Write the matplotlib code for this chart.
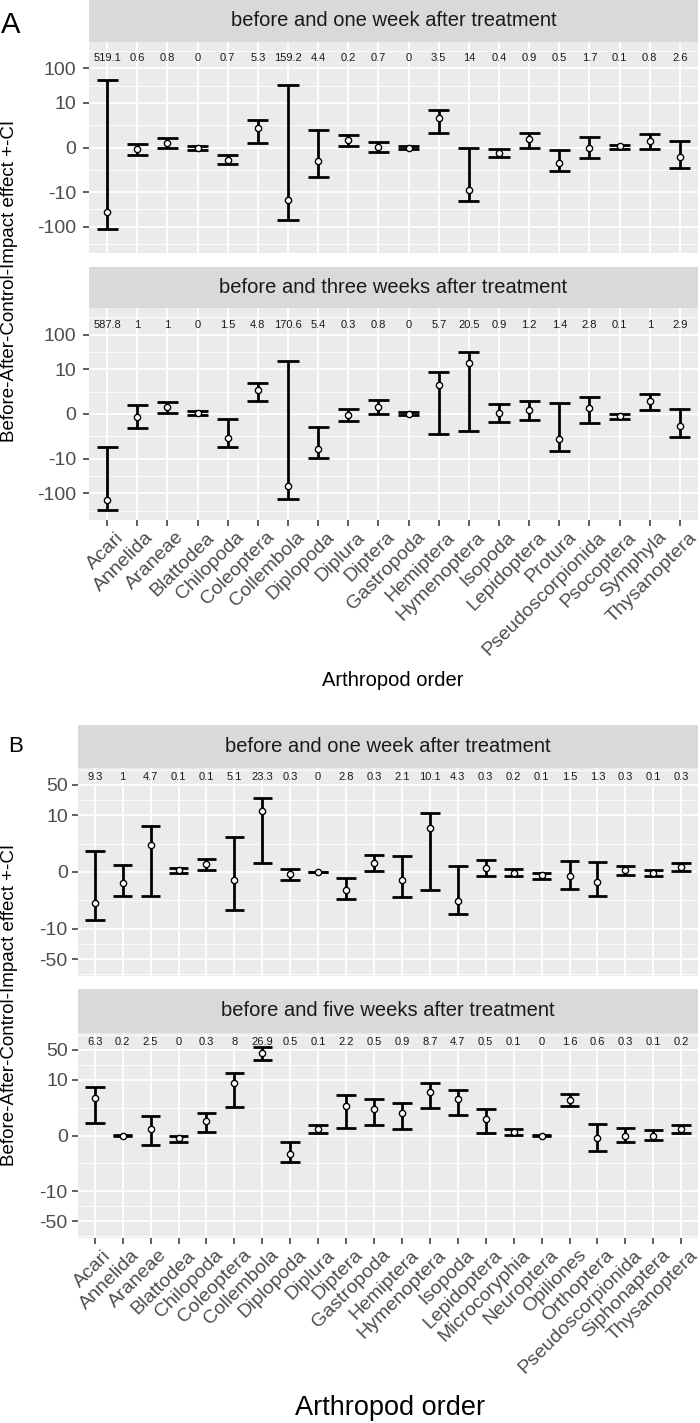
import numpy as np
import matplotlib
matplotlib.use("Agg")
import matplotlib.pyplot as plt
from matplotlib.transforms import blended_transform_factory, ScaledTranslation
from matplotlib.ticker import FixedLocator

plt.rcParams['font.family'] = ['Liberation Sans', 'DejaVu Sans']

# ---- data: panel A ----
orders_a = ["Acari", "Annelida", "Araneae", "Blattodea", "Chilopoda", "Coleoptera",
            "Collembola", "Diplopoda", "Diplura", "Diptera", "Gastropoda", "Hemiptera",
            "Hymenoptera", "Isopoda", "Lepidoptera", "Protura", "Pseudoscorpionida",
            "Psocoptera", "Symphyla", "Thysanoptera"]

# before and one week after treatment
a1_est = [-36.7, -0.13, 0.32, -0.04, -0.98, 1.68, -16.8, -1.08, 0.53, 0.05,
          0.0, 3.56, -8.8, -0.39, 0.59, -1.25, 0.0, 0.09, 0.46, -0.72]
a1_lo = [-116.6, -0.53, 0.0, -0.18, -1.36, 0.34, -65.3, -3.63, 0.11, -0.34,
         -0.07, 1.15, -17.6, -0.69, 0.0, -2.30, -0.78, -0.13, -0.09, -1.9]
a1_hi = [44.8, 0.27, 0.69, 0.11, -0.56, 3.09, 33.5, 1.47, 0.98, 0.39,
         0.09, 6.14, 0.0, -0.11, 1.18, -0.16, 0.80, 0.2, 1.01, 0.44]
a1_n = ["519.1", "0.6", "0.8", "0", "0.7", "5.3", "159.2", "4.4", "0.2", "0.7",
        "0", "3.5", "14", "0.4", "0.9", "0.5", "1.7", "0.1", "0.8", "2.6"]

# before and three weeks after treatment
a2_est = [-151, -0.22, 0.49, 0.07, -2.38, 2.45, -61.9, -5.05, -0.07, 0.51,
          0.02, 3.41, 15.2, 0.09, 0.29, -2.57, 0.39, -0.16, 1.02, -0.89]
a2_lo = [-295, -1.08, 0.05, -0.05, -4.5, 1.02, -141, -9.27, -0.49, 0.0,
         -0.07, -1.73, -1.36, -0.56, -0.39, -5.77, -0.67, -0.32, 0.29, -2.17]
a2_hi = [-4.5, 0.64, 0.89, 0.2, -0.34, 4.02, 17.0, -0.98, 0.34, 1.05,
         0.16, 8.48, 31.7, 0.75, 0.95, 0.81, 1.44, 0.0, 1.78, 0.32]
a2_n = ["587.8", "1", "1", "0", "1.5", "4.8", "170.6", "5.4", "0.3", "0.8",
        "0", "5.7", "20.5", "0.9", "1.2", "1.4", "2.8", "0.1", "1", "2.9"]

# ---- data: panel B ----
orders_b = ["Acari", "Annelida", "Araneae", "Blattodea", "Chilopoda", "Coleoptera",
            "Collembola", "Diplopoda", "Diplura", "Diptera", "Gastropoda", "Hemiptera",
            "Hymenoptera", "Isopoda", "Lepidoptera", "Microcoryphia", "Neuroptera",
            "Opiliones", "Orthoptera", "Pseudoscorpionida", "Siphonaptera", "Thysanoptera"]

# before and one week after treatment
b1_est = [-2.48, -0.62, 1.93, 0.09, 0.44, -0.42, 12.4, -0.13, 0.0, -1.09, 0.50,
          -0.42, 4.94, -2.16, 0.22, -0.05, -0.14, -0.2, -0.56, 0.09, -0.07, 0.27]
b1_lo = [-6.27, -1.63, -1.63, -0.05, 0.13, -3.76, 0.52, -0.42, -0.02, -1.93, 0.04,
         -1.74, -1.12, -4.6, -0.22, -0.23, -0.38, -0.99, -1.63, -0.14, -0.23, 0.07]
b1_hi = [1.35, 0.38, 5.62, 0.23, 0.75, 3.06, 25.3, 0.14, 0.02, -0.35, 0.99,
         0.92, 11.1, 0.33, 0.67, 0.14, -0.05, 0.60, 0.54, 0.31, 0.11, 0.52]
b1_n = ["9.3", "1", "4.7", "0.1", "0.1", "5.1", "23.3", "0.3", "0", "2.8", "0.3",
        "2.1", "10.1", "4.3", "0.3", "0.2", "0.1", "1.5", "1.3", "0.3", "0.1", "0.3"]

# before and five weeks after treatment
b2_est = [3.66, 0.0, 0.36, -0.14, 0.84, 8.13, 42.6, -1.15, 0.36, 2.33, 2.0,
          1.50, 5.18, 3.53, 1.01, 0.18, 0.0, 3.29, -0.16, 0.0, 0.0, 0.36]
b2_lo = [0.75, -0.02, -0.54, -0.34, 0.2, 2.19, 28.3, -1.95, 0.11, 0.40, 0.6,
         0.34, 2.03, 1.31, 0.12, 0.02, -0.02, 2.28, -0.96, -0.38, -0.27, 0.14]
b2_hi = [6.55, 0.02, 1.22, 0.0, 1.50, 14.4, 57.6, -0.33, 0.58, 4.32, 3.47,
         2.72, 8.42, 5.67, 1.93, 0.36, 0.02, 4.48, 0.64, 0.40, 0.29, 0.58]
b2_n = ["6.3", "0.2", "2.5", "0", "0.3", "8", "26.9", "0.5", "0.1", "2.2", "0.5",
        "0.9", "8.7", "4.7", "0.5", "0.1", "0", "1.6", "0.6", "0.3", "0.1", "0.2"]

ticks_a = [-100, -10, 0, 10, 100]
ticks_b = [-50, -10, 0, 10, 50]

W, H = 700, 1423
fig = plt.figure(figsize=(W / 100, H / 100), dpi=100)


def rect(l, t, r, b):
    return [l / W, 1 - b / H, (r - l) / W, (b - t) / H]


def minor_breaks(ticks):
    # ggplot style: midpoints between breaks in transformed (asinh) space
    t = np.arcsinh(np.array(ticks, dtype=float))
    t = np.concatenate([[t[0] - (t[1] - t[0])], t, [t[-1] + (t[-1] - t[-2])]])
    return np.sinh((t[:-1] + t[1:]) / 2)


def panel(box, strip_box, title, cats, est, lo, hi, nlab, ticks, lim, lab_y,
          bottom, ypad):
    ax = fig.add_axes(rect(*box))
    x = np.arange(len(cats))
    ax.set_facecolor('#EBEBEB')
    ax.set_yscale('asinh', linear_width=1)
    ax.set_xlim(-0.6, len(cats) - 0.4)
    ax.set_ylim(-np.sinh(lim), np.sinh(lim))
    ax.yaxis.set_major_locator(FixedLocator(ticks))
    ax.yaxis.set_minor_locator(FixedLocator(minor_breaks(ticks)))
    ax.set_yticklabels([str(t) for t in ticks])
    ax.set_xticks(x)
    ax.grid(which='major', color='white', lw=1.3)
    ax.grid(which='minor', axis='y', color='white', lw=0.6)
    ax.set_axisbelow(True)
    for s in ax.spines.values():
        s.set_visible(False)
    ax.tick_params(axis='y', which='major', length=4.3, width=1.1, color='#333333',
                   labelsize=14, labelcolor='#4D4D4D', pad=ypad)
    ax.tick_params(which='minor', length=0)
    if bottom:
        ax.tick_params(axis='x', length=4.3, width=1.1, color='#333333',
                       labelsize=14, labelcolor='#4D4D4D', pad=2)
        ax.set_xticklabels(cats, rotation=45, ha='right', va='top',
                           rotation_mode='anchor')
        shift = ScaledTranslation(0.08, 0, fig.dpi_scale_trans)
        for lab in ax.get_xticklabels():
            lab.set_transform(lab.get_transform() + shift)
    else:
        ax.tick_params(axis='x', length=0, labelbottom=False)

    ax.vlines(x, lo, hi, color='black', lw=2.0)
    ax.hlines(lo, x - 0.35, x + 0.35, color='black', lw=2.0)
    ax.hlines(hi, x - 0.35, x + 0.35, color='black', lw=2.0)
    ax.plot(x, est, 'o', mfc='white', mec='black', ms=4.5, mew=1.0, zorder=5)

    tr = blended_transform_factory(ax.transData, ax.transAxes)
    for xi, s in zip(x, nlab):
        ax.text(xi, lab_y, s, transform=tr, ha='center', va='center', fontsize=8,
                color='#1A1A1A')

    sa = fig.add_axes(rect(*strip_box))
    sa.set_facecolor('#D9D9D9')
    sa.set_xticks([])
    sa.set_yticks([])
    for s in sa.spines.values():
        s.set_visible(False)
    sa.text(0.5, 0.5, title, ha='center', va='center', fontsize=14.5, color='#1A1A1A',
            transform=sa.transAxes)
    return ax


lim_a = 7.07
lim_b = 5.5

panel((89, 42, 698, 253), (89, 0, 698, 42), "before and one week after treatment",
      orders_a, a1_est, a1_lo, a1_hi, a1_n, ticks_a, lim_a, 0.922, False, 5)
panel((89, 308, 698, 520), (89, 267, 698, 308), "before and three weeks after treatment",
      orders_a, a2_est, a2_lo, a2_hi, a2_n, ticks_a, lim_a, 0.922, True, 5)
panel((78, 768, 698, 976), (78, 725, 698, 768), "before and one week after treatment",
      orders_b, b1_est, b1_lo, b1_hi, b1_n, ticks_b, lim_b, 0.955, False, 3)
panel((78, 1033, 698, 1238), (78, 989, 698, 1033), "before and five weeks after treatment",
      orders_b, b2_est, b2_lo, b2_hi, b2_n, ticks_b, lim_b, 0.955, True, 3)

ylab = "Before-After-Control-Impact effect +-CI"
fig.text(10 / W, 1 - 281 / H, ylab, rotation=90, ha='center', va='center', fontsize=13.5)
fig.text(10 / W, 1 - 1005 / H, ylab, rotation=90, ha='center', va='center', fontsize=13.5)
fig.text(393 / W, 1 - 681 / H, "Arthropod order", ha='center', va='center', fontsize=14.5)
fig.text(390 / W, 1 - 1408 / H, "Arthropod order", ha='center', va='center', fontsize=19.5)
fig.text(11 / W, 1 - 25 / H, "A", ha='center', va='center', fontsize=21)
fig.text(16 / W, 1 - 747 / H, "B", ha='center', va='center', fontsize=16)

fig.savefig("out.png", dpi=100)
